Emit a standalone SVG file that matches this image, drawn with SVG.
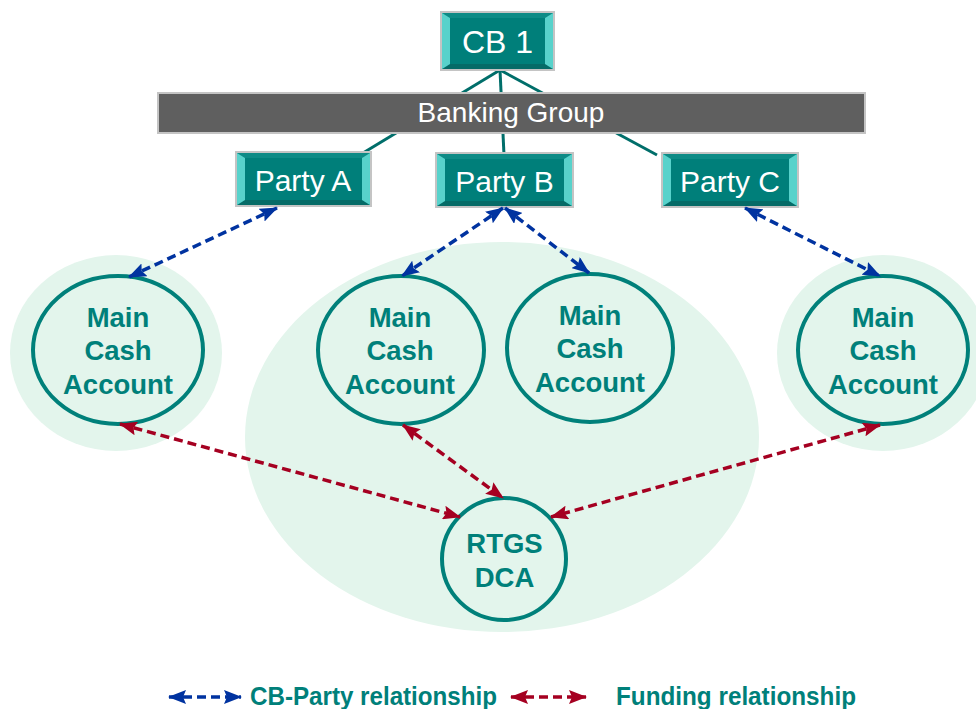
<svg xmlns="http://www.w3.org/2000/svg" width="976" height="709" viewBox="0 0 976 709">
<style>
.bg{fill:#e3f5ec}
.acc{fill:none;stroke:#00807a;stroke-width:4}
.lbl{font-family:"Liberation Sans",Arial,sans-serif;font-weight:bold;font-size:27.5px;fill:#00807a;text-anchor:middle}
.box{fill:#007f7a;stroke:#c4c4c4;stroke-width:2}
.bvs{fill:#58d2cb}
.bvt{fill:#0d8b86}
.bvb{fill:#056b67}
.wt{font-family:"Liberation Sans",Arial,sans-serif;fill:#ffffff;text-anchor:middle}
.tree{stroke:#006e6a;stroke-width:3;fill:none}
.cb{stroke:#0033a0;stroke-width:3.5;stroke-dasharray:9 5;fill:none;marker-start:url(#ab);marker-end:url(#ab)}
.fd{stroke:#a50021;stroke-width:3.5;stroke-dasharray:9 5;fill:none;marker-start:url(#ar);marker-end:url(#ar)}
.leg{font-family:"Liberation Sans",Arial,sans-serif;font-weight:bold;font-size:25px;fill:#00807a}
</style>
<defs>
<marker id="ab" viewBox="0 0 18 14" refX="17" refY="7" markerWidth="18" markerHeight="14" markerUnits="userSpaceOnUse" orient="auto-start-reverse"><path d="M0,0 L18,7 L0,14 L3,7 z" fill="#0033a0"/></marker>
<marker id="ar" viewBox="0 0 18 14" refX="17" refY="7" markerWidth="18" markerHeight="14" markerUnits="userSpaceOnUse" orient="auto-start-reverse"><path d="M0,0 L18,7 L0,14 L3,7 z" fill="#a50021"/></marker>
</defs>
<rect width="976" height="709" fill="#ffffff"/>
<g id="backgrounds">
<ellipse class="bg" cx="116" cy="353" rx="106" ry="98"/>
<ellipse class="bg" cx="502" cy="437" rx="257" ry="195"/>
<ellipse class="bg" cx="883" cy="353" rx="106" ry="98"/>
</g>
<g id="tree">
<line class="tree" x1="500" y1="70" x2="363" y2="153"/>
<line class="tree" x1="500" y1="70" x2="504" y2="155"/>
<line class="tree" x1="500" y1="70" x2="657" y2="155"/>
</g>
<g id="banking-group">
<rect x="158" y="93" width="707" height="40" fill="#5f5f5f" stroke="#c4c4c4" stroke-width="2"/>
<text class="wt" x="511" y="122" font-size="28">Banking Group</text>
</g>
<g id="cb1">
<rect class="box" x="441" y="12" width="113" height="58"/>
<polygon class="bvt" points="442,13 553,13 545,18 450,18"/>
<polygon class="bvb" points="442,69 553,69 545,64 450,64"/>
<polygon class="bvs" points="442,13 450,18 450,64 442,69"/>
<polygon class="bvs" points="553,13 545,18 545,64 553,69"/>
<text class="wt" x="497.5" y="53" font-size="32">CB 1</text>
</g>
<g id="party-a">
<rect class="box" x="236" y="152" width="135" height="54"/>
<polygon class="bvt" points="237,153 370,153 362,158 245,158"/>
<polygon class="bvb" points="237,205 370,205 362,200 245,200"/>
<polygon class="bvs" points="237,153 245,158 245,200 237,205"/>
<polygon class="bvs" points="370,153 362,158 362,200 370,205"/>
<text class="wt" x="303" y="191" font-size="30">Party A</text>
</g>
<g id="party-b">
<rect class="box" x="436" y="153" width="137" height="54"/>
<polygon class="bvt" points="437,154 572,154 564,159 445,159"/>
<polygon class="bvb" points="437,206 572,206 564,201 445,201"/>
<polygon class="bvs" points="437,154 445,159 445,201 437,206"/>
<polygon class="bvs" points="572,154 564,159 564,201 572,206"/>
<text class="wt" x="504.5" y="192" font-size="30">Party B</text>
</g>
<g id="party-c">
<rect class="box" x="662" y="153" width="136" height="54"/>
<polygon class="bvt" points="663,154 797,154 789,159 671,159"/>
<polygon class="bvb" points="663,206 797,206 789,201 671,201"/>
<polygon class="bvs" points="663,154 671,159 671,201 663,206"/>
<polygon class="bvs" points="797,154 789,159 789,201 797,206"/>
<text class="wt" x="730" y="192" font-size="30">Party C</text>
</g>
<g id="mca-a">
<ellipse class="acc" cx="118" cy="350" rx="85" ry="74"/>
<text class="lbl" x="118" y="327">Main</text>
<text class="lbl" x="118" y="360">Cash</text>
<text class="lbl" x="118" y="394">Account</text>
</g>
<g id="mca-b1">
<ellipse class="acc" cx="401" cy="350" rx="83" ry="74"/>
<text class="lbl" x="400" y="327">Main</text>
<text class="lbl" x="400" y="360">Cash</text>
<text class="lbl" x="400" y="394">Account</text>
</g>
<g id="mca-b2">
<ellipse class="acc" cx="590" cy="348" rx="83" ry="74"/>
<text class="lbl" x="590" y="325">Main</text>
<text class="lbl" x="590" y="358">Cash</text>
<text class="lbl" x="590" y="392">Account</text>
</g>
<g id="mca-c">
<ellipse class="acc" cx="883" cy="350" rx="85" ry="74"/>
<text class="lbl" x="883" y="327">Main</text>
<text class="lbl" x="883" y="360">Cash</text>
<text class="lbl" x="883" y="394">Account</text>
</g>
<g id="rtgs-dca">
<ellipse class="acc" cx="504" cy="559" rx="62" ry="61"/>
<text class="lbl" x="504.5" y="553">RTGS</text>
<text class="lbl" x="504.5" y="587">DCA</text>
</g>
<g id="connectors">
<line class="cb" x1="277" y1="208" x2="129" y2="277"/>
<line class="cb" x1="503" y1="208" x2="402" y2="276"/>
<line class="cb" x1="505" y1="208" x2="589" y2="273"/>
<line class="cb" x1="745" y1="208" x2="880" y2="276"/>
<line class="fd" x1="120" y1="424" x2="460" y2="517"/>
<line class="fd" x1="403" y1="425" x2="503" y2="498"/>
<line class="fd" x1="880" y1="425" x2="551" y2="517"/>
</g>
<g id="legend">
<line class="cb" x1="169" y1="697" x2="241" y2="697"/>
<line class="fd" x1="511" y1="697" x2="586" y2="697"/>
<text class="leg" x="250" y="705" textLength="247" lengthAdjust="spacingAndGlyphs">CB-Party relationship</text>
<text class="leg" x="616" y="705" textLength="240" lengthAdjust="spacingAndGlyphs">Funding relationship</text>
</g>
</svg>
